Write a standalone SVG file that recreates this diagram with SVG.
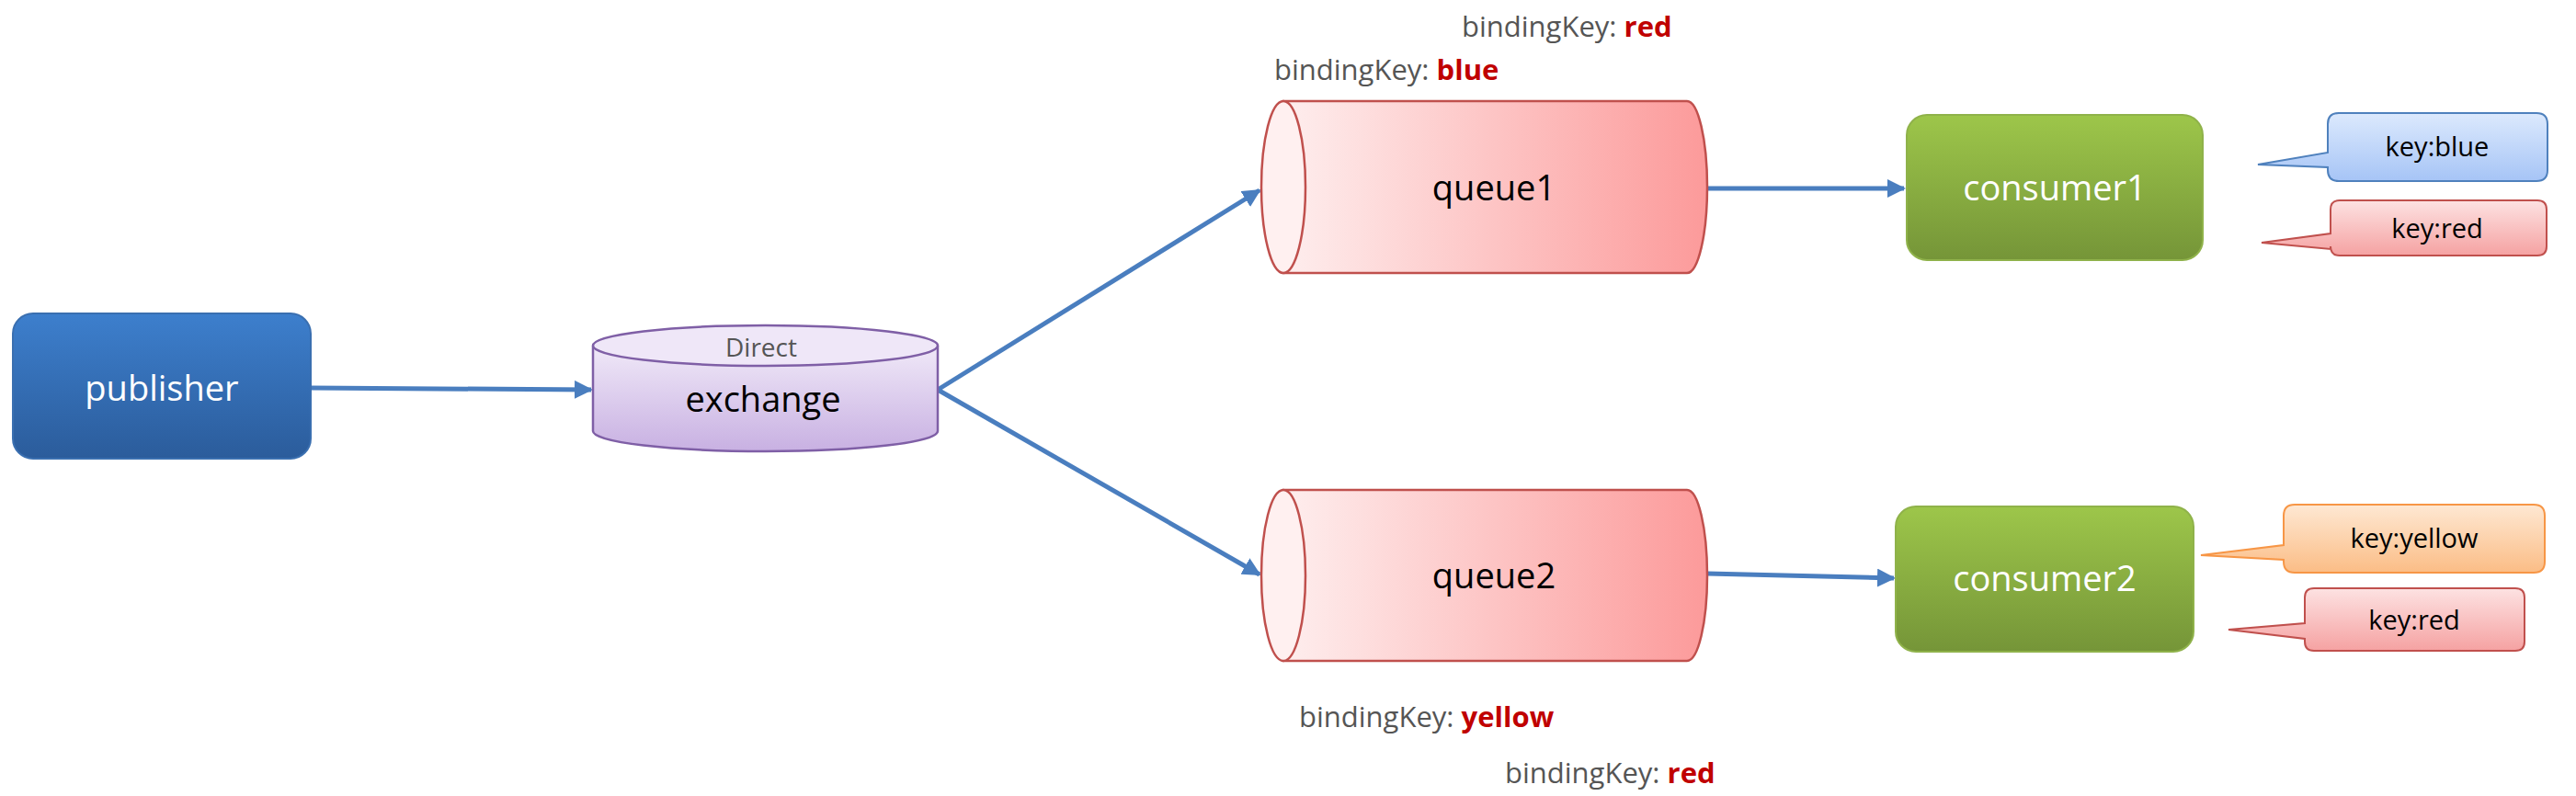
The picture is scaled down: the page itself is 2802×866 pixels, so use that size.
<svg xmlns="http://www.w3.org/2000/svg" width="2802" height="866" viewBox="0 0 2802 866">
<defs>
<linearGradient id="gPub" x1="0" y1="0" x2="0" y2="1"><stop offset="0" stop-color="#3d7fcd"/><stop offset="1" stop-color="#2b5c9b"/></linearGradient>
<linearGradient id="gEx" x1="0" y1="0" x2="0" y2="1"><stop offset="0" stop-color="#f0e9f8"/><stop offset="1" stop-color="#c8b0e2"/></linearGradient>
<linearGradient id="gQ" x1="0" y1="0" x2="1" y2="0"><stop offset="0" stop-color="#feeeee"/><stop offset="1" stop-color="#fc9a9a"/></linearGradient>
<linearGradient id="gC" x1="0" y1="0" x2="0" y2="1"><stop offset="0" stop-color="#9dc64a"/><stop offset="1" stop-color="#759538"/></linearGradient>
<linearGradient id="gB" x1="0" y1="0" x2="0" y2="1"><stop offset="0" stop-color="#dce9fd"/><stop offset="1" stop-color="#a6c4f6"/></linearGradient>
<linearGradient id="gR" x1="0" y1="0" x2="0" y2="1"><stop offset="0" stop-color="#fde2e2"/><stop offset="1" stop-color="#f5a2a2"/></linearGradient>
<linearGradient id="gY" x1="0" y1="0" x2="0" y2="1"><stop offset="0" stop-color="#fee8d3"/><stop offset="1" stop-color="#fbbd86"/></linearGradient>
<marker id="ah" viewBox="0 0 10 10" refX="9" refY="5" markerWidth="4" markerHeight="4" orient="auto"><path d="M0,0 L10,5 L0,10 Z" fill="#4a7ebf"/></marker>
</defs>
<style>
text{font-family:"Open Sans","Liberation Sans",sans-serif;}
.w{fill:#fff;font-size:38px;text-anchor:middle}
.b{fill:#000;font-size:38px;text-anchor:middle}
.k{fill:#000;font-size:29px;text-anchor:middle}
.bk{fill:#555;font-size:31px}
.red{fill:#c00000;font-weight:bold}
.q{fill:url(#gQ);stroke:#c0504d;stroke-width:2.5}
.c{fill:url(#gC);stroke:#8fb24a;stroke-width:2}
.con{stroke:#4a7ebf;stroke-width:5;fill:none;marker-end:url(#ah)}
</style>
<g id="connectors">
<line class="con" x1="338" y1="422" x2="643" y2="424"/>
<line class="con" x1="1020" y1="424" x2="1370" y2="207"/>
<line class="con" x1="1020" y1="424" x2="1370" y2="625"/>
<line class="con" x1="1857" y1="205" x2="2071" y2="205"/>
<line class="con" x1="1857" y1="624" x2="2060" y2="629"/>
</g>
<g id="publisher">
<rect x="14" y="341" width="324" height="158" rx="22" fill="url(#gPub)" stroke="#3a6fb0" stroke-width="2"/>
<text class="w" x="176" y="436">publisher</text>
</g>
<g id="exchange">
<path d="M645,376 V469 A187.5,22 0 0 0 1020,469 V376" fill="url(#gEx)" stroke="#7f5fa6" stroke-width="2.5"/>
<ellipse cx="832.5" cy="376" rx="187.5" ry="22" fill="#efe7f8" stroke="#7f5fa6" stroke-width="2.5"/>
<text x="828" y="388" style="fill:#555;font-size:28px;text-anchor:middle">Direct</text>
<text class="b" x="830" y="448">exchange</text>
</g>
<g id="queue1">
<path class="q" d="M1396,110 H1835 A22,93.5 0 0 1 1835,297 H1396 Z"/>
<ellipse class="q" cx="1396" cy="203.5" rx="24" ry="93.5" style="fill:#fff0f0"/>
<text class="b" x="1625" y="218">queue1</text>
</g>
<g id="queue2">
<path class="q" d="M1396,533 H1835 A22,93 0 0 1 1835,719 H1396 Z"/>
<ellipse class="q" cx="1396" cy="626" rx="24" ry="93" style="fill:#fff0f0"/>
<text class="b" x="1625" y="640">queue2</text>
</g>
<g id="consumer1">
<rect class="c" x="2074" y="125" width="322" height="158" rx="22"/>
<text class="w" x="2235" y="218">consumer1</text>
</g>
<g id="consumer2">
<rect class="c" x="2062" y="551" width="324" height="158" rx="22"/>
<text class="w" x="2224" y="643">consumer2</text>
</g>
<g id="callout-blue">
<path d="M2544,123 H2759 Q2771,123 2771,135 V185 Q2771,197 2759,197 H2544 Q2532,197 2532,185 V182 L2456,179 L2532,166 V135 Q2532,123 2544,123 Z" fill="url(#gB)" stroke="#4f81bd" stroke-width="2"/>
<text class="k" x="2651" y="170">key:blue</text>
</g>
<g id="callout-red1">
<path d="M2545,218 H2760 Q2770,218 2770,228 V268 Q2770,278 2760,278 H2545 Q2535,278 2535,268 V271 L2460,264 L2535,254 V228 Q2535,218 2545,218 Z" fill="url(#gR)" stroke="#c0504d" stroke-width="2"/>
<text class="k" x="2651" y="259">key:red</text>
</g>
<g id="callout-yellow">
<path d="M2496,549 H2756 Q2768,549 2768,561 V611 Q2768,623 2756,623 H2496 Q2484,623 2484,611 V609 L2394,604 L2484,593 V561 Q2484,549 2496,549 Z" fill="url(#gY)" stroke="#f79646" stroke-width="2"/>
<text class="k" x="2626" y="596">key:yellow</text>
</g>
<g id="callout-red2">
<path d="M2517,640 H2736 Q2746,640 2746,650 V698 Q2746,708 2736,708 H2517 Q2507,708 2507,698 V695 L2424,685 L2507,678 V650 Q2507,640 2517,640 Z" fill="url(#gR)" stroke="#c0504d" stroke-width="2"/>
<text class="k" x="2626" y="685">key:red</text>
</g>
<g id="labels">
<text class="bk" x="1590" y="40">bindingKey: <tspan class="red">red</tspan></text>
<text class="bk" x="1386" y="87">bindingKey: <tspan class="red">blue</tspan></text>
<text class="bk" x="1413" y="791">bindingKey: <tspan class="red">yellow</tspan></text>
<text class="bk" x="1637" y="852">bindingKey: <tspan class="red">red</tspan></text>
</g>
</svg>
